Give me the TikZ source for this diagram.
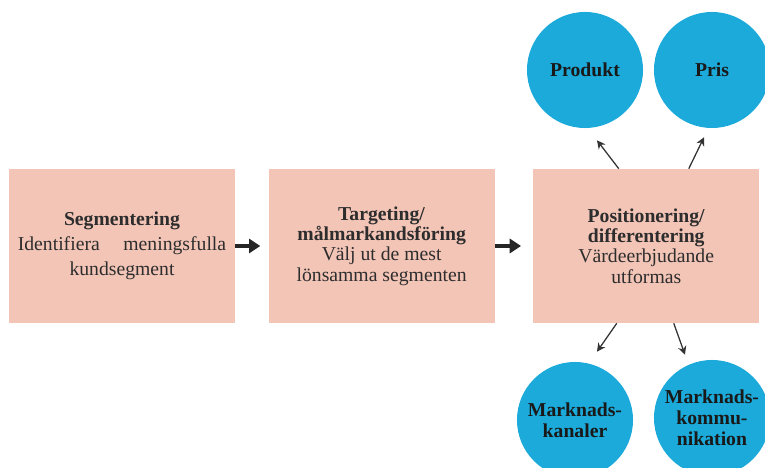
\documentclass[tikz,border=0pt]{standalone}
\usepackage{fontspec}
\setmainfont{Liberation Serif}
\usetikzlibrary{positioning,arrows.meta}

\definecolor{boxpink}{RGB}{243,197,183}
\definecolor{ballblue}{RGB}{27,170,218}
\definecolor{textgray}{RGB}{45,45,45}

\begin{document}
\begin{tikzpicture}[
  x=0.025cm, y=0.025cm,
  node distance=0.825cm,
  every node/.style={align=center, text=textgray, font=\fontsize{14}{14.5}\selectfont},
  stage/.style={rectangle, fill=boxpink, minimum width=5.65cm, minimum height=3.85cm, inner sep=2pt},
  ball/.style={circle, fill=ballblue, minimum size=2.9cm, inner sep=0pt, text=black!90,
    font=\fontsize{14}{15}\selectfont\bfseries},
  flow/.style={-{Triangle[length=8pt,width=10pt]}, line width=2.2pt, black!85},
  spoke/.style={-{Stealth[length=6pt,width=6pt]}, line width=0.9pt, black!80}
]
\useasboundingbox (0,0) rectangle (765,468);

\node[stage, font=\fontsize{14}{17.8}\selectfont] (seg) at (122,222)
  {\textbf{Segmentering}\\Identifiera\hspace{1.2em}meningsfulla\\kundsegment};
\node[stage, right=of seg] (target) {\textbf{Targeting/}\\\textbf{målmarkandsföring}\\Välj ut de mest\\lönsamma segmenten};
\node[stage, right=0.95cm of target] (pos) {\textbf{Positionering/}\\\textbf{differentering}\\Värdeerbjudande\\utformas};

\node[ball] (prod) at (585,398) {Produkt};
\node[ball] (pris) at (712,398) {Pris};
\node[ball] (kanal) at (575,48) {Marknads-\\kanaler};
\node[ball] (komm) at (712,50) {Marknads-\\kommu-\\nikation};

\draw[flow, shorten >=5.7pt] (seg.east) -- (target.west);
\draw[flow, shorten >=8.5pt] (target.east) -- (pos.west);

\draw[spoke] ([shift={(-27.5,0)}]pos.north) -- ([shift={(12,-12)}]prod.south);
\draw[spoke] ([shift={(42.5,0)}]pos.north) -- ([shift={(-8,-9)}]pris.south);
\draw[spoke] ([shift={(-29.5,0)}]pos.south) -- ([shift={(22,10)}]kanal.north);
\draw[spoke] ([shift={(27.5,0)}]pos.south) -- ([shift={(-27,5)}]komm.north);

\end{tikzpicture}
\end{document}
